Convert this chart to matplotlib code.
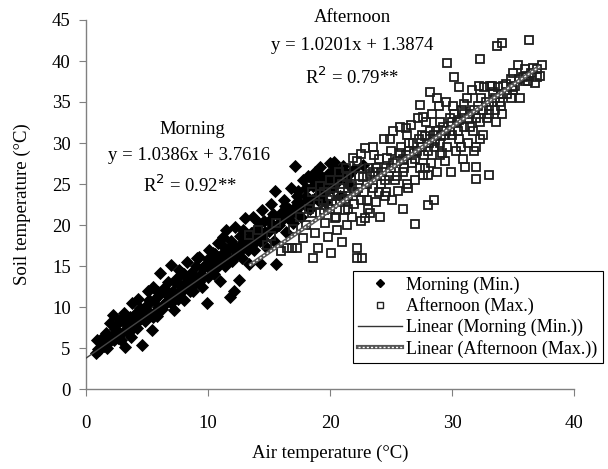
import matplotlib
matplotlib.use("Agg")
import matplotlib.pyplot as plt
from matplotlib.lines import Line2D
import numpy as np

plt.rcParams['font.family'] = ['Liberation Serif', 'DejaVu Serif']

# ---- data ----
morning_x = [0.8, 1.0, 1.2, 0.9, 1.5, 1.6, 1.8, 2.0, 2.2, 2.1, 2.4, 2.6, 2.8, 3.0, 3.2, 3.1, 3.4, 3.6, 3.8, 3.7,
             4.0, 4.2, 4.3, 4.5, 4.6, 4.8, 5.0, 5.1, 5.3, 5.4, 5.5, 5.6, 5.8, 6.0, 6.1, 6.2, 6.4, 6.5, 6.7, 6.8,
             7.0, 7.1, 7.2, 7.4, 7.5, 7.6, 7.8, 7.9, 8.0, 8.2, 8.3, 8.5, 8.6, 8.8, 9.0, 9.1, 9.3, 9.4, 9.5, 9.7,
             9.9, 10.0, 10.1, 10.2, 10.4, 10.5, 10.7, 10.8, 11.0, 11.1, 11.2, 11.4, 11.5, 11.6, 11.8, 11.9, 12.0,
             12.1, 12.2, 12.3, 12.5, 12.6, 12.8, 12.9, 13.0, 13.2, 13.4, 13.5, 13.7, 13.8, 14.0, 14.2, 14.3, 14.4,
             14.6, 14.8, 15.0, 15.2, 15.4, 15.5, 15.6, 15.8, 16.0, 16.2, 16.4, 16.6, 16.8, 17.0, 17.1, 17.3, 17.4,
             17.6, 17.8, 18.0, 18.2, 18.4, 18.6, 18.8, 19.0, 19.2, 19.4, 19.6, 19.8, 20.0, 20.2, 20.3, 20.5, 20.8,
             21.0, 21.2, 21.5, 22.0, 22.7,
             1.3, 1.9, 2.7, 3.3, 3.9, 4.4, 5.2, 5.9, 6.6, 7.3, 7.7, 8.4, 8.9, 9.6, 10.3, 10.9, 11.3, 11.7, 12.4,
             13.1, 13.6, 14.1, 14.7, 15.3, 15.9, 16.5, 17.2, 17.9, 18.5, 19.1, 19.7, 20.4, 21.3,
             1.1, 2.3, 3.5, 4.7, 5.7, 6.9, 8.1, 9.2, 10.6, 11.5, 12.7, 13.9, 14.5, 15.7, 16.7, 18.1, 19.3, 20.6,
             1.4, 1.7, 2.5, 2.9, 3.3, 3.6, 4.1, 4.4, 4.9, 5.2, 5.5, 5.9, 6.3, 6.6, 7.0, 7.3, 7.7, 8.0, 8.4, 8.7,
             9.0, 9.3, 9.6, 10.0, 10.3, 10.6, 11.0, 11.3, 11.6, 12.0, 12.3, 12.6, 13.0, 13.3, 13.6, 14.0, 14.3,
             14.6, 15.0, 15.3, 15.6, 16.0, 16.3, 16.6, 17.0, 17.3, 17.6, 18.0, 18.3, 18.6, 19.0, 19.3, 19.6, 20.0,
             20.4, 20.8, 21.1, 21.6]
morning_y = [4.4, 4.9, 5.8, 6.0, 5.2, 6.8, 5.6, 8.0, 9.0, 6.5, 7.3, 6.2, 8.4, 7.0, 5.1, 9.3, 7.8, 8.8, 10.5, 6.4,
             9.1, 7.5, 11.0, 9.6, 5.4, 8.3, 10.2, 12.0, 9.0, 7.2, 12.5, 10.8, 8.9, 11.5, 14.1, 9.8, 12.3, 10.4, 13.0, 11.2,
             15.1, 12.0, 9.6, 13.4, 11.0, 14.5, 12.6, 14.1, 10.8, 13.0, 15.5, 12.0, 14.2, 11.9, 13.5, 16.0, 16.1, 14.0, 12.5, 15.0,
             10.5, 13.6, 17.0, 15.3, 16.6, 14.0, 15.8, 17.8, 13.2, 16.4, 18.5, 15.0, 19.4, 17.0, 11.2, 18.0, 15.6,
             11.9, 19.8, 17.2, 13.3, 18.6, 16.0, 19.4, 20.8, 17.5, 15.2, 19.0, 21.0, 17.0, 18.8, 20.2, 15.4, 21.8,
             19.0, 17.2, 20.5, 22.5, 18.0, 24.2, 15.3, 20.0, 21.5, 23.0, 19.2, 22.0, 24.5, 20.3, 27.2, 22.8, 24.2,
             21.0, 25.5, 23.5, 26.0, 22.0, 24.8, 26.5, 23.0, 27.1, 25.0, 22.8, 26.2, 27.5, 24.5, 27.7, 25.8, 23.5,
             26.5, 26.5, 25.0, 26.8, 27.3,
             5.2, 5.9, 6.8, 7.2, 7.9, 8.5, 9.4, 10.0, 10.7, 11.6, 11.7, 12.4, 13.0, 13.7, 14.4, 15.1, 15.3, 15.9, 16.7,
             17.4, 17.8, 18.5, 19.2, 19.9, 20.4, 21.0, 21.8, 22.5, 23.0, 23.8, 24.2, 25.0, 25.6,
             4.7, 6.0, 6.9, 8.6, 9.5, 10.8, 12.5, 13.2, 14.6, 15.8, 17.0, 18.0, 18.3, 20.0, 21.2, 22.6, 23.5, 25.4,
             6.3, 5.0, 7.9, 6.0, 8.5, 7.2, 8.0, 9.9, 9.0, 10.9, 8.8, 11.8, 10.2, 12.0, 10.5, 13.0, 12.0, 14.0, 13.5, 12.6,
             15.0, 13.0, 14.8, 15.8, 14.5, 16.5, 15.5, 17.3, 15.9, 17.5, 16.4, 17.6, 18.2, 17.0, 18.8, 19.6, 18.0,
             20.5, 19.3, 21.3, 19.8, 20.8, 22.3, 21.2, 22.0, 23.5, 22.5, 24.5, 23.2, 25.5, 24.8, 26.0, 25.3, 26.0,
             26.8, 26.2, 27.2, 26.3]

afternoon_x = [13.4, 14.1, 14.8, 15.2, 15.6, 16.0, 16.5, 16.9, 17.0, 17.3, 17.5, 17.8, 18.0, 18.3, 18.6, 18.8, 19.0,
               19.2, 19.4, 19.6, 19.8, 20.0, 20.1, 20.3, 20.5, 20.6, 20.8, 21.0, 21.0, 21.2, 21.4, 21.5, 21.7, 21.9,
               22.0, 22.2, 22.2, 22.3, 22.5, 22.6, 22.7, 22.9, 22.9, 23.0, 23.2, 23.3, 23.5, 23.5, 23.7, 23.8, 24.0,
               24.1, 24.2, 24.4, 24.5, 24.6, 24.8, 25.0, 25.1, 25.2, 25.3, 25.5, 25.6, 25.7, 25.8, 26.0, 26.0, 26.2,
               26.3, 26.4, 26.6, 26.7, 26.8, 27.0, 27.0, 27.1, 27.2, 27.4, 27.4, 27.5, 27.6, 27.7, 27.9, 28.0, 28.0,
               28.1, 28.2, 28.3, 28.4, 28.5, 28.5, 28.7, 28.8, 28.9, 29.0, 29.1, 29.3, 29.4, 29.5, 29.6, 29.6, 29.8,
               29.9, 30.0, 30.1, 30.2, 30.3, 30.4, 30.6, 30.6, 30.8, 30.9, 31.0, 31.1, 31.2, 31.3, 31.5, 31.6, 31.7,
               31.8, 32.0, 32.0, 32.0, 32.1, 32.2, 32.3, 32.3, 32.5, 32.6, 32.8, 33.0, 33.0, 33.1, 33.3, 33.5, 33.7,
               33.8, 34.0, 34.1, 34.1, 34.2, 34.5, 34.8, 34.8, 35.0, 35.2, 35.4, 35.6, 35.8, 36.0, 36.2, 36.3, 36.5,
               36.8, 37.0, 37.2, 37.4,
               18.5, 19.0, 19.5, 20.0, 20.5, 21.0, 21.5, 22.0, 22.5, 23.0, 23.5, 24.0, 24.5, 25.0, 25.5, 26.0, 26.5,
               27.0, 27.5, 28.0, 28.5, 29.0, 29.5, 30.0, 30.5, 31.0, 31.5, 32.0, 32.5, 33.0, 33.5, 34.0, 35.0, 36.0,
               18.5, 19.2, 20.0, 20.7, 21.3, 22.2, 22.5,
               19.5, 20.2, 20.8, 21.2, 21.8, 22.4, 22.8, 23.3, 23.8, 24.3, 24.7, 25.2, 25.7, 26.1, 26.5, 26.9, 27.3,
               27.8, 28.2, 28.6, 29.0, 29.4, 29.8, 30.2, 30.6, 31.0, 31.4, 31.8, 32.4, 32.9, 33.4, 33.9, 34.4, 34.9,
               35.5, 36.1, 36.6, 37.0, 24.9, 26.2, 27.6, 28.8, 23.6, 21.4, 20.4, 21.8, 23.1, 24.6, 26.3, 27.8, 29.2,
               30.7, 32.3, 33.6]
afternoon_y = [18.8, 19.4, 17.5, 18.6, 20.2, 16.8, 17.2, 17.2, 19.5, 17.2, 21.0, 18.4, 20.0, 22.0, 16.0, 19.0, 17.2,
               21.5, 23.0, 20.2, 18.5, 22.0, 16.6, 24.0, 21.0, 19.4, 23.0, 17.9, 25.0, 21.8, 20.0, 23.5, 26.0, 28.2,
               22.5, 16.0, 17.2, 24.5, 20.5, 16.0, 25.8, 29.4, 20.8, 23.0, 27.0, 21.5, 29.5, 24.5, 26.0, 22.8, 28.0,
               21.0, 25.0, 30.5, 23.5, 27.0, 26.0, 29.0, 23.0, 31.5, 25.5, 27.8, 24.2, 32.0, 29.5, 22.0, 26.5, 28.5,
               31.0, 24.5, 32.2, 27.5, 30.0, 20.1, 25.5, 29.0, 33.0, 34.6, 27.0, 31.0, 26.1, 28.5, 32.5, 22.4, 26.1,
               30.0, 36.2, 27.5, 33.5, 23.0, 29.5, 31.5, 26.5, 34.5, 28.5, 30.8, 32.0, 27.8, 35.0, 39.8, 29.5, 33.0,
               26.5, 31.0, 34.5, 38.0, 29.0, 32.5, 36.8, 30.5, 34.0, 28.0, 32.0, 27.1, 35.5, 30.0, 33.5, 36.5, 31.5,
               29.0, 25.6, 27.1, 29.5, 34.5, 37.0, 40.2, 32.5, 31.0, 36.8, 35.0, 26.1, 33.5, 36.9, 37.0, 35.5, 41.8,
               36.8, 34.5, 42.2, 33.5, 37.0, 36.0, 35.5, 37.8, 38.5, 37.0, 39.5, 35.5, 38.0, 39.0, 37.5, 42.6, 38.5,
               37.3, 39.0, 38.2, 39.5,
               21.5, 22.5, 21.8, 23.5, 22.8, 23.5, 22.0, 24.0, 23.0, 25.0, 26.5, 24.0, 25.5, 27.0, 26.0, 28.0, 29.0,
               28.0, 29.5, 29.0, 31.0, 30.0, 31.5, 32.5, 31.5, 33.5, 32.0, 33.0, 34.0, 34.5, 34.0, 36.0, 36.5, 37.5,
               24.0, 24.8, 25.5, 26.5, 27.0, 27.8, 28.6,
               24.0, 22.5, 24.5, 23.2, 24.8, 26.0, 24.0, 26.2, 27.0, 26.5, 28.2, 27.5, 28.8, 27.0, 30.0, 28.8, 30.5,
               30.8, 31.5, 30.2, 32.5, 31.0, 31.5, 33.5, 32.8, 34.8, 33.0, 34.0, 35.5, 33.0, 36.2, 35.0, 37.2, 36.8,
               37.8, 38.2, 39.2, 38.0, 30.5, 31.8, 33.2, 35.5, 28.5, 25.8, 20.8, 21.0, 22.0, 24.0, 25.0, 27.0, 28.8,
               29.5, 30.5, 32.5]

morning_fit = (1.0386, 3.7616)
afternoon_fit = (1.0201, 1.3874)
morning_range = (0.0, 22.7)
afternoon_range = (13.4, 37.2)

x_ticks = [0, 10, 20, 30, 40]
y_ticks = [0, 5, 10, 15, 20, 25, 30, 35, 40, 45]

# ---- figure ----
fig = plt.figure(figsize=(6.08, 4.69), dpi=100)
ax = fig.add_axes([86/608, 1-389/469, (574-86)/608, (389-20)/469])

ax.plot(morning_x, morning_y, linestyle='none', marker='D', markersize=6.2,
        markerfacecolor='black', markeredgecolor='black', markeredgewidth=0.6, zorder=2)
ax.plot(afternoon_x, afternoon_y, linestyle='none', marker='s', markersize=6.4,
        markerfacecolor='none', markeredgecolor='#1e1e1e', markeredgewidth=1.3, zorder=3)

xm = np.array(morning_range)
ax.plot(xm, morning_fit[0]*xm + morning_fit[1], color='#444444', lw=1.0, zorder=4)
xa = np.array(afternoon_range)
ax.plot(xa, afternoon_fit[0]*xa + afternoon_fit[1], color='#555555', lw=3.0, zorder=4,
        solid_capstyle='butt')
ax.plot(xa, afternoon_fit[0]*xa + afternoon_fit[1], color='white', lw=1.0, zorder=5,
        linestyle=(0, (1.5, 1.5)))

ax.set_xlim(0, 40)
ax.set_ylim(0, 45)
ax.set_xticks(x_ticks)
ax.set_yticks(y_ticks)
for s in ['top', 'right']:
    ax.spines[s].set_visible(False)
for s in ['left', 'bottom']:
    ax.spines[s].set_color('#808080')
    ax.spines[s].set_linewidth(1.0)
ax.tick_params(direction='out', length=5, color='#808080', labelsize=13.5)
ax.tick_params(axis='x', pad=13.5)
ax.tick_params(axis='y', pad=6)

ax.set_xlabel('Air temperature (°C)', fontsize=13.5, labelpad=9)
ax.set_ylabel('Soil temperature (°C)', fontsize=13.5, labelpad=15)

def ftext(px, py, s):
    fig.text(px/608, 1-py/469, s, fontsize=13.5, ha='center', va='center')

ftext(192, 130, 'Morning')
ftext(189, 156, 'y = 1.0386x + 3.7616')
ftext(190, 185, 'R$^2$ = 0.92**')
ftext(352, 18, 'Afternoon')
ftext(352, 45, 'y = 1.0201x + 1.3874')
ftext(352, 77, 'R$^2$ = 0.79**')

h1 = Line2D([], [], linestyle='none', marker='D', markersize=4, color='black')
h2 = Line2D([], [], linestyle='none', marker='s', markersize=5, markerfacecolor='none',
            markeredgecolor='#222222', markeredgewidth=1.0)
h3 = Line2D([], [], color='#333333', lw=1.0)
h4a = Line2D([], [], color='#555555', lw=3.0)
h4b = Line2D([], [], color='white', lw=1.0, linestyle=(0, (1.5, 1.5)))
leg = ax.legend([h1, h2, h3, (h4a, h4b)],
                ['Morning (Min.)', 'Afternoon (Max.)', 'Linear (Morning (Min.))',
                 'Linear (Afternoon (Max.))'],
                loc='upper left', bbox_to_anchor=(353/608, 1-271/469), bbox_transform=fig.transFigure,
                frameon=True, fancybox=False, framealpha=1, edgecolor='black', fontsize=13,
                borderpad=0.3, handlelength=2.4, handletextpad=0.25, labelspacing=0.2,
                borderaxespad=0)
leg.get_frame().set_linewidth(0.8)
leg.set_zorder(10)

fig.savefig('out.png', dpi=100)
